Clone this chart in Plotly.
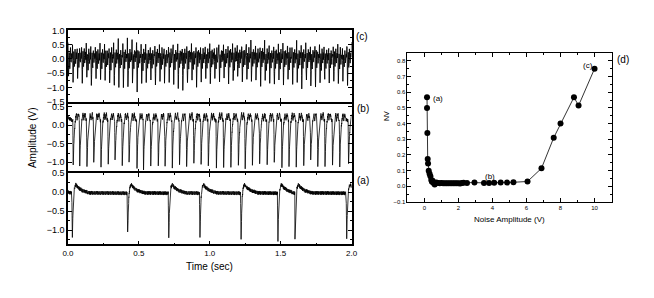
import numpy as np
import plotly.graph_objects as go

# page body keeps its default 8px margin, so the figure is sized to fit inside it
W, H = 638, 282
OFF = 8

# ---------------- data ----------------
# Panel (c): one fast cycle per entry; upper tip and lower tip (V)
c_top = [0.55, 0.50, 0.45, 0.52, 0.48, 0.50, 0.45, 0.55, 0.50, 0.48,
         0.70, 0.75, 0.60, 0.78, 0.80, 0.65, 0.55, 0.60, 0.50, 0.55,
         0.52, 0.50, 0.55, 0.48, 0.50, 0.45, 0.50, 0.55, 0.50, 0.45,
         0.50, 0.60, 0.45, 0.55, 0.50, 0.48, 0.55, 0.60, 0.52, 0.50,
         0.70, 0.55, 0.50, 0.60, 0.55, 0.48, 0.50, 0.55, 0.60, 0.50,
         0.65, 0.55, 0.60, 0.50, 0.48, 0.55, 0.50, 0.45, 0.50, 0.55,
         0.48, 0.60]
c_bottom = [-0.70, -0.90, -0.75, -0.85, -0.70, -0.95, -0.80, -0.85, -0.75, -0.90,
            -1.00, -1.10, -0.95, -1.10, -1.00, -1.15, -0.90, -1.00, -0.85, -0.95,
            -0.80, -0.90, -0.85, -0.95, -1.00, -1.20, -0.90, -0.85, -1.00, -0.90,
            -0.80, -0.85, -0.75, -0.90, -0.80, -0.85, -0.90, -0.75, -0.85, -0.80,
            -0.90, -0.85, -0.95, -0.80, -0.90, -1.00, -0.85, -0.90, -0.80, -0.95,
            -0.90, -1.00, -0.85, -1.10, -0.95, -0.90, -0.85, -0.95, -0.80, -0.90,
            -0.85, -0.95]
c_inner = [0.25, -0.35, 0.35, -0.15, 0.20, 0.00]   # small oscillations inside a cycle

# Panel (b): spike times (s) and spike minima (V)
b_times = [0.035, 0.081, 0.132, 0.180, 0.231, 0.282, 0.330, 0.381, 0.429, 0.485,
           0.531, 0.582, 0.635, 0.683, 0.734, 0.785, 0.835, 0.886, 0.937, 0.988,
           1.045, 1.096, 1.147, 1.200, 1.248, 1.299, 1.350, 1.403, 1.453, 1.507,
           1.557, 1.608, 1.661, 1.710, 1.760, 1.811, 1.864, 1.915, 1.977]
b_mins = [-1.085, -1.085, -1.085, -1.04, -1.085, -1.04, -0.955, -1.085, -1.04, -1.17,
          -1.17, -1.085, -1.13, -1.085, -1.13, -1.085, -1.085, -1.04, -1.085, -1.13,
          -1.11, -1.13, -1.16, -1.13, -1.16, -1.085, -1.04, -1.085, -1.04, -1.13,
          -1.085, -1.11, -1.085, -0.955, -1.085, -1.13, -1.085, -1.13, -1.085]
b_shape_dt = [0.002, 0.006, 0.010, 0.015, 0.020, 0.025, 0.030, 0.035, 0.040, 0.045]
b_shape_v = [None, -0.55, -0.20, 0.05, 0.20, 0.30, 0.15, 0.25, 0.30, 0.15]

# Panel (a): spike times (s) and spike minima (V)
a_times = [0.030, 0.420, 0.710, 0.930, 1.220, 1.480, 1.600, 1.965]
a_mins = [-1.16, -1.08, -1.24, -1.20, -1.26, -1.26, -1.26, -1.20]
a_shape_dt = [0.0, 0.004, 0.008, 0.015, 0.025, 0.040, 0.070, 0.120]
a_shape_v = [None, -0.60, -0.15, 0.12, 0.20, 0.12, 0.04, -0.02]
a_base = -0.03

# hand-typed noise pattern (relative units)
noise = [0.3, -0.8, 0.5, -0.2, 0.9, -0.6, 0.1, -1.0, 0.7, -0.3, 0.4, -0.9, 0.8,
         -0.1, 0.6, -0.7, 0.2, -0.5, 1.0, -0.4, 0.0, -0.8, 0.5, -0.6, 0.9, -0.2,
         0.3, -1.0, 0.7, -0.3, 0.1, -0.7, 0.6, -0.5, 0.8, -0.1, 0.4]

# Panel (d): noise amplitude (V) vs NV
nv_x = [0.15, 0.15, 0.17, 0.19, 0.21, 0.25, 0.30, 0.35, 0.40, 0.44, 0.48, 0.52,
        0.56, 0.60, 0.70, 0.80, 0.90, 1.00, 1.10, 1.20, 1.30, 1.40, 1.50, 1.60,
        1.70, 1.80, 1.90, 2.00, 2.10, 2.20, 2.30, 2.50, 2.94, 3.50, 3.80, 4.10,
        4.48, 4.86, 5.23, 6.06, 6.88, 7.60, 8.00, 8.79, 9.06, 10.00]
nv_y = [0.568, 0.500, 0.340, 0.175, 0.146, 0.100, 0.080, 0.064, 0.040, 0.030,
        0.036, 0.025, 0.020, 0.012, 0.025, 0.022, 0.020, 0.022, 0.020, 0.020,
        0.020, 0.020, 0.020, 0.020, 0.020, 0.020, 0.020, 0.020, 0.018, 0.022,
        0.023, 0.022, 0.024, 0.022, 0.022, 0.023, 0.024, 0.024, 0.026, 0.031,
        0.115, 0.310, 0.400, 0.568, 0.515, 0.750]

# ---------------- build traces ----------------
t = np.arange(0, 2.0005, 0.001)
nz = np.array([noise[k % len(noise)] for k in range(len(t))])

# (c)
P = 2.0 / len(c_top)
fr = [0.28, 0.40, 0.55, 0.68, 0.82, 0.92]
kt, kv = [], []
for i in range(len(c_top)):
    t0 = i * P
    kt += [t0, t0 + 0.12 * P] + [t0 + f * P for f in fr]
    kv += [c_top[i], c_bottom[i]] + c_inner
kt.append(2.0); kv.append(c_top[0])
yc = np.interp(t, kt, kv) + 0.08 * nz

# (b)
kt, kv = [0.0], [0.2]
for t0, m in zip(b_times, b_mins):
    kt.append(t0 - 0.001); kv.append(0.12)
    for dt, v in zip(b_shape_dt, b_shape_v):
        kt.append(t0 + dt); kv.append(m if v is None else v)
kt.append(2.05); kv.append(0.2)
order = np.argsort(kt, kind="stable")
yb = np.interp(t, np.array(kt)[order], np.array(kv)[order]) + 0.05 * nz

# (a)
kt, kv = [0.0], [0.0]
for t0, m in zip(a_times, a_mins):
    kt.append(t0 - 0.003); kv.append(a_base)
    for dt, v in zip(a_shape_dt, a_shape_v):
        kt.append(t0 + dt + 0.001); kv.append(m if v is None else v)
kt.append(2.1); kv.append(a_base)
order = np.argsort(kt, kind="stable")
ya = np.interp(t, np.array(kt)[order], np.array(kv)[order]) + 0.05 * nz


def px(x):
    return (x - OFF) / W


def py(y):
    return 1 - (y - OFF) / H


FONT = "Liberation Sans, Arial, sans-serif"
fig = go.Figure()
line = dict(color="black", width=0.8)
fig.add_trace(go.Scatter(x=t, y=yc, mode="lines", line=dict(color="black", width=0.9),
                         xaxis="x", yaxis="y", showlegend=False))
fig.add_trace(go.Scatter(x=t, y=yb, mode="lines", line=line, xaxis="x2", yaxis="y2", showlegend=False))
fig.add_trace(go.Scatter(x=t, y=ya, mode="lines", line=line, xaxis="x3", yaxis="y3", showlegend=False))
fig.add_trace(go.Scatter(x=nv_x, y=nv_y, mode="lines+markers",
                         line=dict(color="#333", width=1),
                         marker=dict(color="black", size=6),
                         xaxis="x4", yaxis="y4", showlegend=False))

xdom = [px(63), px(352)]


def ax_common(lw=1.5):
    return dict(showline=True, linecolor="black", linewidth=lw, mirror="ticks",
                ticks="inside", ticklen=4, tickwidth=1, tickcolor="black",
                showgrid=False, zeroline=False,
                tickfont=dict(family=FONT, size=9, color="black"))


def xa(anchor, dom, labels, showline=True):
    d = ax_common()
    d.update(domain=dom, anchor=anchor, range=[0, 2], dtick=0.5, tick0=0,
             tickformat=".1f", showticklabels=labels, showline=showline,
             minor=dict(ticks="inside", dtick=0.25, ticklen=2, tickcolor="black"))
    d["tickfont"] = dict(family=FONT, size=8, color="black")
    return d


def ya_(anchor, dom, rng):
    d = ax_common()
    d.update(domain=dom, anchor=anchor, range=rng, dtick=0.5, tick0=0,
             tickformat=".1f",
             minor=dict(ticks="inside", dtick=0.25, ticklen=2, tickcolor="black"))
    return d


fig.update_layout(
    width=W, height=H, margin=dict(l=0, r=0, t=0, b=0),
    plot_bgcolor="white", paper_bgcolor="white",
    xaxis=xa("y", xdom, False),
    yaxis=ya_("x", [py(100), py(26)], [-1.5001, 1.0001]),
    xaxis2=xa("y2", xdom, False, showline=False),
    yaxis2=ya_("x2", [py(174), py(100)], [-1.29, 0.63]),
    xaxis3=xa("y3", xdom, True),
    yaxis3=ya_("x3", [py(248), py(174)], [-1.38, 0.5001]),
    xaxis4=dict(ax_common(1), domain=[px(409), px(617)], anchor="y4",
                range=[-1, 11], dtick=2, tick0=0,
                tickfont=dict(family=FONT, size=6, color="black"),
                minor=dict(ticks="inside", dtick=1, ticklen=2, tickcolor="black")),
    yaxis4=dict(ax_common(1), domain=[py(204), py(49)], anchor="x4",
                range=[-0.1001, 0.853], dtick=0.1, tick0=0, tickformat=".1f",
                tickfont=dict(family=FONT, size=6, color="black"),
                minor=dict(ticks="inside", dtick=0.05, ticklen=2, tickcolor="black")),
)

ann = []


def lab(text, x, y, size, angle=0, xanchor="center"):
    ann.append(dict(text=text, x=px(x), y=py(y), xref="paper", yref="paper",
                    showarrow=False, textangle=angle, xanchor=xanchor, yanchor="middle",
                    font=dict(family=FONT, size=size, color="black")))


lab("Amplitude (V)", 27, 137, 10, -90)
lab("Time (sec)", 207, 271, 10)
lab("(c)", 355, 32.5, 10, xanchor="left")
lab("(b)", 356, 106.5, 10, xanchor="left")
lab("(a)", 356, 182, 10, xanchor="left")
lab("(d)", 621, 56.5, 10, xanchor="left")
lab("NV", 387, 115, 7, -90)
lab("Noise Amplitude (V)", 513, 222, 8)

for txt, xv, yv in [("(a)", 0.77, 0.558), ("(b)", 3.88, 0.061), ("(c)", 9.61, 0.769)]:
    ann.append(dict(text=txt, x=xv, y=yv, xref="x4", yref="y4", showarrow=False,
                    font=dict(family=FONT, size=8, color="black")))

fig.update_layout(annotations=ann)
fig.write_html("out.html")
